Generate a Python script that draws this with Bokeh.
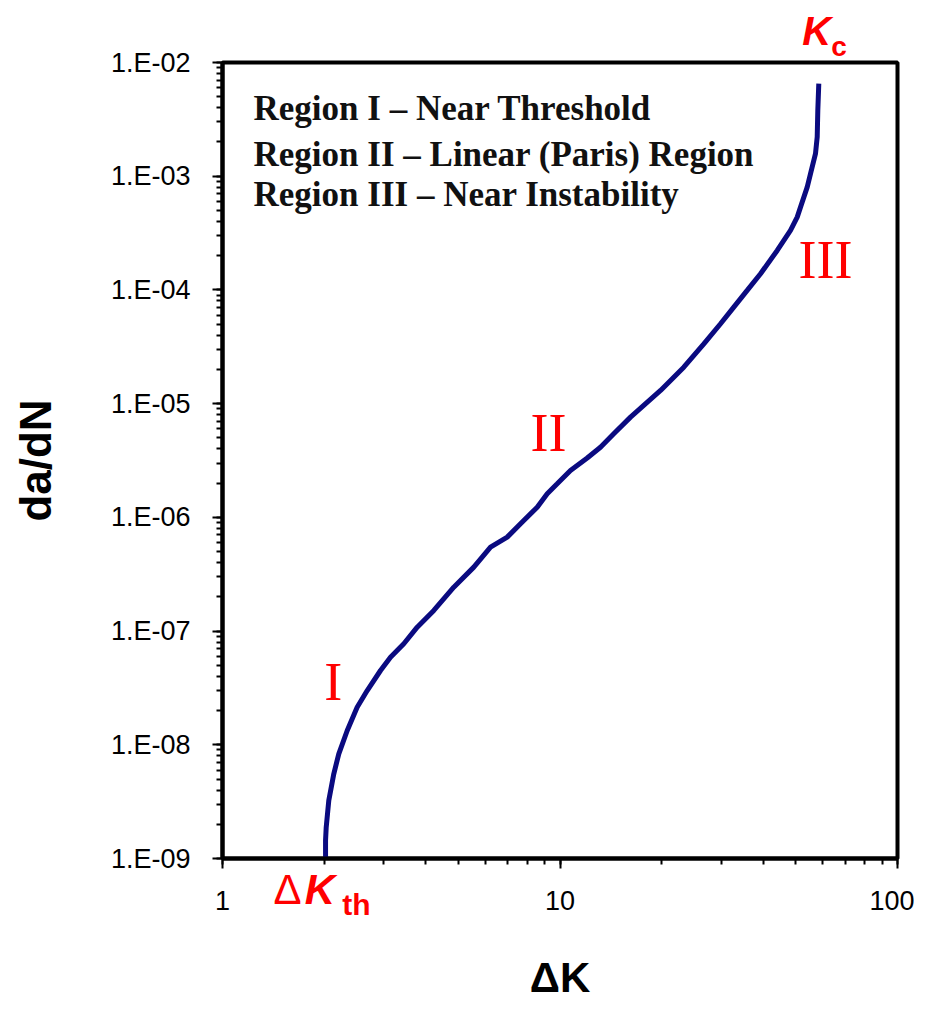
from bokeh.plotting import figure
from bokeh.models import (Range1d, Label, LogTicker, FixedTicker, LogAxis,
                          CustomJSTickFormatter)
from bokeh.embed import file_html
from bokeh.resources import INLINE

# Crack growth curve
delta_k = [2.020, 2.020, 2.029, 2.065, 2.137, 2.211, 2.342, 2.506, 2.684, 2.939,
           3.146, 3.445, 3.775, 4.228, 4.845, 5.554, 6.225, 6.977, 7.638, 8.560,
           9.165, 9.81, 10.74, 12.04, 13.18, 14.43, 16.18, 19.86, 23.27, 26.68,
           29.90, 32.73, 35.86, 39.28, 44.02, 48.19, 50.45, 51.60, 54.01, 55.25,
           57.15, 57.82, 58.06, 58.45]
dadn = [1.0e-9, 1.44e-9, 1.885e-9, 3.24e-9, 5.56e-9, 8.33e-9, 1.336e-8, 2.14e-8,
        3.0e-8, 4.50e-8, 5.89e-8, 7.73e-8, 1.082e-7, 1.518e-7, 2.43e-7, 3.65e-7,
        5.47e-7, 6.70e-7, 8.78e-7, 1.229e-6, 1.613e-6, 1.974e-6, 2.585e-6, 3.33e-6,
        4.14e-6, 5.44e-6, 7.61e-6, 1.306e-5, 2.09e-5, 3.36e-5, 5.04e-5, 7.06e-5,
        9.90e-5, 1.388e-4, 2.225e-4, 3.337e-4, 4.37e-4, 5.35e-4, 8.02e-4, 1.052e-3,
        1.577e-3, 2.208e-3, 3.79e-3, 6.51e-3]

region_lines = ["Region I \u2013 Near Threshold",
                "Region II \u2013 Linear (Paris) Region",
                "Region III \u2013 Near Instability"]
region_marks = ["I", "II", "III"]

p = figure(x_axis_type="log", y_axis_type="log",
           x_range=Range1d(1, 100), y_range=Range1d(1e-9, 1e-2),
           frame_width=675, frame_height=796,
           min_border_left=222, min_border_right=17,
           min_border_top=62, min_border_bottom=100,
           output_backend="svg", toolbar_location=None)
p.grid.visible = False
p.background_fill_color = "white"
p.border_fill_color = "white"
p.outline_line_color = "black"
p.outline_line_width = 4

p.line(delta_k, dadn, line_color="#0a0a80", line_width=5)

for ax in (p.xaxis[0], p.yaxis[0]):
    ax.axis_line_width = 4
    ax.axis_line_color = "black"
    ax.major_tick_line_width = 2
    ax.minor_tick_line_width = 2
    ax.major_tick_in = 0
    ax.minor_tick_in = 0
    ax.major_tick_out = 10
    ax.minor_tick_out = 6
    ax.major_label_text_font = "Liberation Sans"
    ax.major_label_text_font_size = "27px"
    ax.major_label_text_color = "black"
    ax.major_label_standoff = 22
    ax.axis_label_text_font = "Liberation Sans"
    ax.axis_label_text_font_style = "bold"
    ax.axis_label_text_color = "black"

p.xaxis.ticker = LogTicker(num_minor_ticks=10)
p.yaxis.ticker = LogTicker(num_minor_ticks=10)
p.xaxis.formatter = CustomJSTickFormatter(code="return String(Math.round(tick));")
p.yaxis.formatter = CustomJSTickFormatter(code="""
const e = Math.round(Math.log10(tick));
const a = Math.abs(e);
return "1.E" + (e < 0 ? "-" : "+") + (a < 10 ? "0" : "") + a;
""")
p.yaxis.axis_label = "da/dN"
p.yaxis.axis_label_text_font_size = "44px"
p.yaxis.axis_label_standoff = 48


def text_axis(tick, txt, size, style, standoff):
    ax = LogAxis(ticker=FixedTicker(ticks=[tick], minor_ticks=[]),
                 formatter=CustomJSTickFormatter(args=dict(t=txt), code="return t;"))
    ax.axis_line_color = None
    ax.major_tick_line_color = None
    ax.minor_tick_line_color = None
    ax.major_tick_out = 0
    ax.minor_tick_out = 0
    ax.major_tick_in = 0
    ax.minor_tick_in = 0
    ax.major_label_text_font = "Liberation Sans"
    ax.major_label_text_font_size = size
    ax.major_label_text_font_style = style
    ax.major_label_text_color = "red"
    ax.major_label_standoff = standoff
    return ax


# Delta K_th below the frame (stacked text axes), then the axis title
p.add_layout(text_axis(1.558, "\u0394", "42px", "normal", -47), "below")
p.add_layout(text_axis(1.944, "K", "42px", "bold italic", -50), "below")
ax_th = text_axis(2.495, "th", "30px", "bold", -28)
ax_th.axis_label = "\u0394K"
ax_th.axis_label_text_font = "Liberation Sans"
ax_th.axis_label_text_font_style = "bold"
ax_th.axis_label_text_font_size = "42px"
ax_th.axis_label_text_color = "black"
ax_th.axis_label_standoff = 30
p.add_layout(ax_th, "below")

# K_c above the frame
p.add_layout(text_axis(67.1, "c", "28px", "bold", 1), "above")
p.add_layout(text_axis(57.6, "K", "40px", "bold italic", -25), "above")

# Text block
for txt, yv in zip(region_lines, [3.94e-3, 1.55e-3, 6.9e-4]):
    p.add_layout(Label(x=1.236, y=yv, text=txt, text_font="Liberation Serif",
                       text_font_style="bold", text_font_size="35px",
                       text_color="#111111", text_baseline="middle"))

for txt, xv, yv in zip(region_marks, [2.13, 9.25, 61.2], [3.6e-8, 5.5e-6, 1.85e-4]):
    p.add_layout(Label(x=xv, y=yv, text=txt, text_font="Liberation Serif",
                       text_font_size="54px", text_color="red",
                       text_align="center", text_baseline="middle"))

open("out.html", "w").write(file_html(p, INLINE))
